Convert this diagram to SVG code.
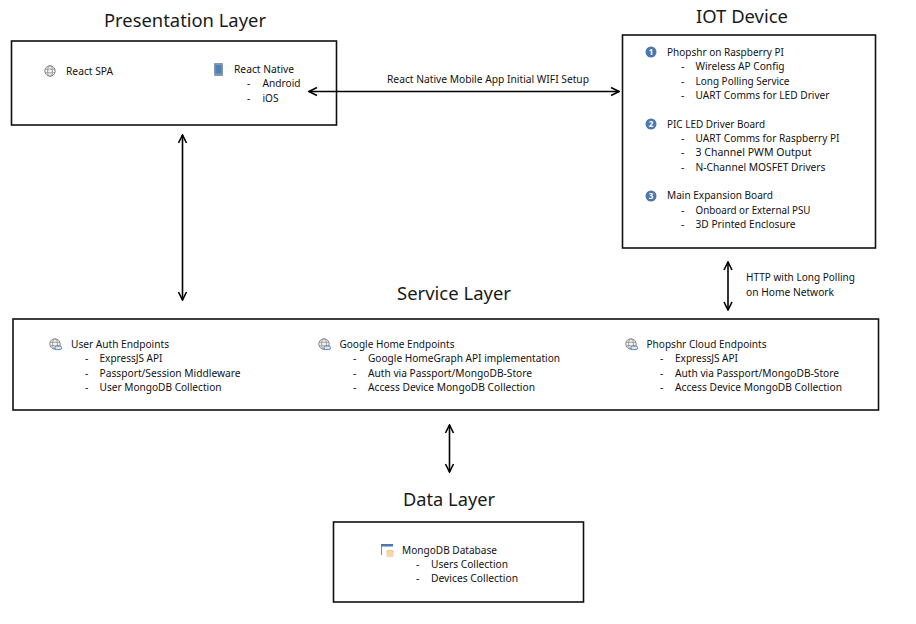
<svg xmlns="http://www.w3.org/2000/svg" width="916" height="624" viewBox="0 0 916 624">
<style>
text{font-family:"Noto Sans","Open Sans","Liberation Sans",sans-serif;fill:#111;font-size:10.4px}
.t{font-size:18px;fill:#1a1a1a}
.b{fill:#fff;stroke:#111;stroke-width:1.6}
.c{fill:none;stroke:#000;stroke-width:1.6;marker-start:url(#a);marker-end:url(#a)}
.n{fill:#4a78b0}
.nt{font-size:8px;font-weight:700;fill:#fff;text-anchor:middle}
</style>
<defs>
<marker id="a" viewBox="0 0 10 10" refX="9" refY="5" markerWidth="10" markerHeight="10" markerUnits="userSpaceOnUse" orient="auto-start-reverse"><path d="M1 1L9 5L1 9" fill="none" stroke="#000" stroke-width="1.6"/></marker>
<g id="globe"><circle cx="0" cy="0" r="5.2" fill="#f2f2f2" stroke="#8a8a8a"/><ellipse cx="0" cy="0" rx="2.4" ry="5.2" fill="none" stroke="#8a8a8a" stroke-width=".8"/><path d="M-5 -1.8H5M-5 1.8H5" stroke="#8a8a8a" stroke-width=".8"/></g>
<g id="globelink"><use href="#globe"/><rect x="0" y="2" width="6.5" height="3.6" rx="1.6" fill="#dce6f2" stroke="#4a78b0" stroke-width=".9"/></g>
</defs>
<rect width="916" height="624" fill="#fff"/>
<g id="presentation-layer">
<text class="t" x="104" y="27" textLength="162" lengthAdjust="spacingAndGlyphs">Presentation Layer</text>
<rect class="b" x="11.500" y="41" width="325" height="84"/>
<use href="#globe" x="50" y="71"/>
<text x="66" y="75" textLength="47" lengthAdjust="spacingAndGlyphs">React SPA</text>
<g><rect x="214" y="63" width="9" height="13" rx="1" fill="#8a97a5"/><rect x="215.500" y="65" width="6" height="8.500" fill="#4a82c0"/></g>
<text x="234" y="73" textLength="60" lengthAdjust="spacingAndGlyphs">React Native</text>
<text x="247" y="87">-</text><text x="262.500" y="87" textLength="38" lengthAdjust="spacingAndGlyphs">Android</text>
<text x="247" y="102">-</text><text x="262.500" y="102" textLength="16" lengthAdjust="spacingAndGlyphs">iOS</text>
</g>
<g id="iot-device">
<text class="t" x="696" y="23" textLength="92" lengthAdjust="spacingAndGlyphs">IOT Device</text>
<rect class="b" x="622.500" y="35" width="253" height="213"/>
<circle class="n" cx="651" cy="52" r="5.500"/><text class="nt" x="651" y="55">1</text>
<text x="667" y="56" textLength="117" lengthAdjust="spacingAndGlyphs">Phopshr on Raspberry PI</text>
<text x="681" y="70">-</text><text x="695.500" y="70" textLength="89" lengthAdjust="spacingAndGlyphs">Wireless AP Config</text>
<text x="681" y="85">-</text><text x="695.500" y="85" textLength="94" lengthAdjust="spacingAndGlyphs">Long Polling Service</text>
<text x="681" y="99">-</text><text x="695.500" y="99" textLength="134" lengthAdjust="spacingAndGlyphs">UART Comms for LED Driver</text>
<circle class="n" cx="651" cy="124" r="5.500"/><text class="nt" x="651" y="127">2</text>
<text x="667" y="128" textLength="98" lengthAdjust="spacingAndGlyphs">PIC LED Driver Board</text>
<text x="681" y="142">-</text><text x="695.500" y="142" textLength="144" lengthAdjust="spacingAndGlyphs">UART Comms for Raspberry PI</text>
<text x="681" y="156">-</text><text x="695.500" y="156" textLength="116" lengthAdjust="spacingAndGlyphs">3 Channel PWM Output</text>
<text x="681" y="171">-</text><text x="695.500" y="171" textLength="130" lengthAdjust="spacingAndGlyphs">N-Channel MOSFET Drivers</text>
<circle class="n" cx="651" cy="196" r="5.500"/><text class="nt" x="651" y="199">3</text>
<text x="667" y="199" textLength="106" lengthAdjust="spacingAndGlyphs">Main Expansion Board</text>
<text x="681" y="214">-</text><text x="695.500" y="214" textLength="115" lengthAdjust="spacingAndGlyphs">Onboard or External PSU</text>
<text x="681" y="228">-</text><text x="695.500" y="228" textLength="100" lengthAdjust="spacingAndGlyphs">3D Printed Enclosure</text>
</g>
<g id="service-layer">
<text class="t" x="397" y="300" textLength="114" lengthAdjust="spacingAndGlyphs">Service Layer</text>
<rect class="b" x="13" y="319" width="865.500" height="91"/>
<use href="#globelink" x="55" y="344"/>
<text x="71" y="348" textLength="98" lengthAdjust="spacingAndGlyphs">User Auth Endpoints</text>
<text x="85" y="362">-</text><text x="99.500" y="362" textLength="63" lengthAdjust="spacingAndGlyphs">ExpressJS API</text>
<text x="85" y="377">-</text><text x="99.500" y="377" textLength="141" lengthAdjust="spacingAndGlyphs">Passport/Session Middleware</text>
<text x="85" y="391">-</text><text x="99.500" y="391" textLength="122" lengthAdjust="spacingAndGlyphs">User MongoDB Collection</text>
<use href="#globelink" x="324" y="344"/>
<text x="339.500" y="348" textLength="115" lengthAdjust="spacingAndGlyphs">Google Home Endpoints</text>
<text x="353" y="362">-</text><text x="368" y="362" textLength="192" lengthAdjust="spacingAndGlyphs">Google HomeGraph API implementation</text>
<text x="353" y="377">-</text><text x="368" y="377" textLength="164" lengthAdjust="spacingAndGlyphs">Auth via Passport/MongoDB-Store</text>
<text x="353" y="391">-</text><text x="368" y="391" textLength="167" lengthAdjust="spacingAndGlyphs">Access Device MongoDB Collection</text>
<use href="#globelink" x="631" y="344"/>
<text x="646.500" y="348" textLength="120" lengthAdjust="spacingAndGlyphs">Phopshr Cloud Endpoints</text>
<text x="660" y="362">-</text><text x="675" y="362" textLength="63" lengthAdjust="spacingAndGlyphs">ExpressJS API</text>
<text x="660" y="377">-</text><text x="675" y="377" textLength="164" lengthAdjust="spacingAndGlyphs">Auth via Passport/MongoDB-Store</text>
<text x="660" y="391">-</text><text x="675" y="391" textLength="167" lengthAdjust="spacingAndGlyphs">Access Device MongoDB Collection</text>
</g>
<g id="data-layer">
<text class="t" x="403" y="506" textLength="92" lengthAdjust="spacingAndGlyphs">Data Layer</text>
<rect class="b" x="333.500" y="522" width="250" height="80"/>
<g><path d="M381.500 555V545H392" fill="none" stroke="#8a8a8a"/><rect x="381" y="544" width="12" height="2.500" fill="#4a78b0"/><ellipse cx="390" cy="552" rx="3.500" ry="1.800" fill="#f6d9a8" stroke="#d9a860" stroke-width=".6"/><rect x="386.500" y="552" width="7" height="5" fill="#f6d9a8"/></g>
<text x="402" y="554" textLength="95" lengthAdjust="spacingAndGlyphs">MongoDB Database</text>
<text x="416" y="568">-</text><text x="431" y="568" textLength="77" lengthAdjust="spacingAndGlyphs">Users Collection</text>
<text x="416" y="582">-</text><text x="431" y="582" textLength="87" lengthAdjust="spacingAndGlyphs">Devices Collection</text>
</g>
<g id="connectors">
<path class="c" d="M309 91.500H619"/>
<path class="c" d="M182.500 135V300"/>
<path class="c" d="M728 262V310"/>
<path class="c" d="M449.500 425V472"/>
<text id="label-wifi" x="488" y="83" text-anchor="middle" textLength="202" lengthAdjust="spacingAndGlyphs">React Native Mobile App Initial WIFI Setup</text>
<text id="label-http1" x="746" y="281" textLength="109" lengthAdjust="spacingAndGlyphs">HTTP with Long Polling</text>
<text id="label-http2" x="746" y="295.500" textLength="88" lengthAdjust="spacingAndGlyphs">on Home Network</text>
</g>
</svg>
